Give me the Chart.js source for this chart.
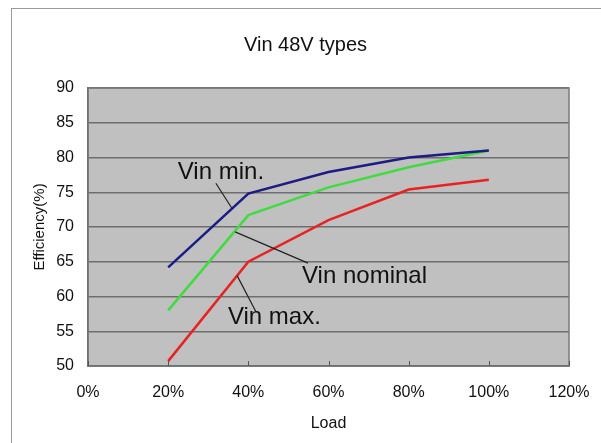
<!DOCTYPE html>
<html>
<head>
<meta charset="utf-8">
<script src="https://cdn.jsdelivr.net/npm/chart.js@4"></script>
<style>
  html, body { margin: 0; padding: 0; background: #fff; }
  #wrap { position: relative; width: 601px; height: 443px; }
  #frame { position: absolute; left: 11px; top: 8px; width: 600px; height: 450px;
           border-left: 1px solid #9a9a9a; border-top: 1px solid #9a9a9a; }
  canvas { position: absolute; left: 0; top: 0; }
</style>
</head>
<body>
<div id="wrap">
  <div id="frame"></div>
  <canvas id="effChart" width="601" height="443"></canvas>
</div>
<script>
// ค่าที่อ่านจากภาพ (Load %, Efficiency %)
const loadPoints = [20, 40, 60, 80, 100];
const vinMin     = [64.2, 74.8, 77.9, 80.0, 81.0];
const vinNominal = [58.0, 71.7, 75.7, 78.6, 81.0];
const vinMax     = [50.7, 65.0, 71.0, 75.4, 76.8];

const xTicks = [0, 20, 40, 60, 80, 100, 120];
const yTicks = [50, 55, 60, 65, 70, 75, 80, 85, 90];

// ป้ายข้อความพร้อมเส้นชี้ (พิกัดเป็นค่าบนแกน)
const callouts = [
  { text: 'Vin min.',    tx: 22.4, ty: 77.9, from: [31.9, 76.3], to: [35.9, 72.7] },
  { text: 'Vin nominal', tx: 53.4, ty: 62.9, from: [36.7, 69.3], to: [54.9, 64.8] },
  { text: 'Vin max.',    tx: 34.9, ty: 57.0, from: [37.2, 63.0], to: [41.9, 57.8] }
];

function toXY(arr) {
  return loadPoints.map((x, i) => ({ x: x, y: arr[i] }));
}

// พื้นหลังสีเทา + กรอบ + ขีดบนแกน X + ป้ายข้อความ
const plotDecor = {
  id: 'plotDecor',
  beforeDraw(chart) {
    const a = chart.chartArea, ctx = chart.ctx;
    ctx.save();
    ctx.fillStyle = '#c0c0c0';
    ctx.fillRect(a.left, a.top, a.right - a.left, a.bottom - a.top);
    ctx.restore();
  },
  afterDraw(chart) {
    const a = chart.chartArea, ctx = chart.ctx;
    const xs = chart.scales.x, ys = chart.scales.y;
    ctx.save();
    ctx.strokeStyle = '#7a7a7a';
    ctx.lineWidth = 1.5;
    ctx.strokeRect(a.left, a.top, a.right - a.left, a.bottom - a.top);
    // ขีดสั้นด้านในที่แกน X
    ctx.strokeStyle = '#555';
    ctx.lineWidth = 1;
    xTicks.forEach(v => {
      const px = Math.round(xs.getPixelForValue(v)) + 0.5;
      ctx.beginPath();
      ctx.moveTo(px, a.bottom);
      ctx.lineTo(px, a.bottom - 5);
      ctx.stroke();
    });
    // ป้าย Vin ...
    ctx.font = '24px Arial, "Liberation Sans", sans-serif';
    ctx.fillStyle = '#111';
    ctx.textAlign = 'left';
    ctx.textBaseline = 'middle';
    callouts.forEach(c => {
      ctx.strokeStyle = '#222';
      ctx.lineWidth = 1.2;
      ctx.beginPath();
      ctx.moveTo(xs.getPixelForValue(c.from[0]), ys.getPixelForValue(c.from[1]));
      ctx.lineTo(xs.getPixelForValue(c.to[0]), ys.getPixelForValue(c.to[1]));
      ctx.stroke();
      ctx.fillText(c.text, xs.getPixelForValue(c.tx), ys.getPixelForValue(c.ty));
    });
    ctx.restore();
  }
};

const fontFamily = 'Arial, "Liberation Sans", sans-serif';

new Chart(document.getElementById('effChart').getContext('2d'), {
  type: 'line',
  data: {
    datasets: [
      { label: 'Vin min.', data: toXY(vinMin), borderColor: '#1c1c84', borderWidth: 2.5, pointRadius: 0, tension: 0 },
      { label: 'Vin nominal', data: toXY(vinNominal), borderColor: '#3fdc3f', borderWidth: 2.5, pointRadius: 0, tension: 0 },
      { label: 'Vin max.', data: toXY(vinMax), borderColor: '#e82222', borderWidth: 2.5, pointRadius: 0, tension: 0 }
    ]
  },
  options: {
    responsive: false,
    devicePixelRatio: 1,
    animation: false,
    layout: { padding: { left: 10, right: 0, top: 0, bottom: 0 } },
    plugins: {
      legend: { display: false },
      tooltip: { enabled: false },
      title: {
        display: true,
        text: 'Vin 48V types',
        color: '#111',
        font: { family: fontFamily, size: 20, weight: 'normal', lineHeight: 1.2 },
        padding: { top: 33, bottom: 31 }
      }
    },
    scales: {
      x: {
        type: 'linear',
        min: 0, max: 120,
        afterBuildTicks: s => { s.ticks = xTicks.map(v => ({ value: v })); },
        afterFit: s => { s.height = 77; s.paddingLeft = 0; s.paddingRight = 0; },
        ticks: {
          color: '#111',
          padding: 17,
          maxRotation: 0,
          font: { family: fontFamily, size: 16 },
          callback: v => v + '%'
        },
        grid: { drawOnChartArea: false, drawTicks: false },
        border: { display: true, color: '#555', width: 1.5 },
        title: {
          display: true, text: 'Load', color: '#111',
          font: { family: fontFamily, size: 16 },
          padding: { top: 0, bottom: 10 }
        }
      },
      y: {
        type: 'linear',
        min: 50, max: 90,
        afterBuildTicks: s => { s.ticks = yTicks.map(v => ({ value: v })); },
        afterFit: s => { s.width = 78; },
        ticks: {
          color: '#111',
          padding: 14,
          font: { family: fontFamily, size: 16 }
        },
        grid: { color: '#6e6e6e', lineWidth: 1.5, drawTicks: false },
        border: { display: true, color: '#555', width: 1.5 },
        title: {
          display: true, text: 'Efficiency(%)', color: '#111',
          font: { family: fontFamily, size: 15 },
          padding: { top: 21, bottom: 0 }
        }
      },
      // แกนขวาว่าง ๆ ไว้กันที่ให้พื้นที่กราฟตรงกับภาพต้นฉบับ
      yRight: {
        type: 'linear',
        position: 'right',
        min: 50, max: 90,
        afterFit: s => { s.width = 32; },
        ticks: { display: false },
        grid: { drawOnChartArea: false, drawTicks: false },
        border: { display: false }
      }
    }
  },
  plugins: [plotDecor]
});
</script>
</body>
</html>
